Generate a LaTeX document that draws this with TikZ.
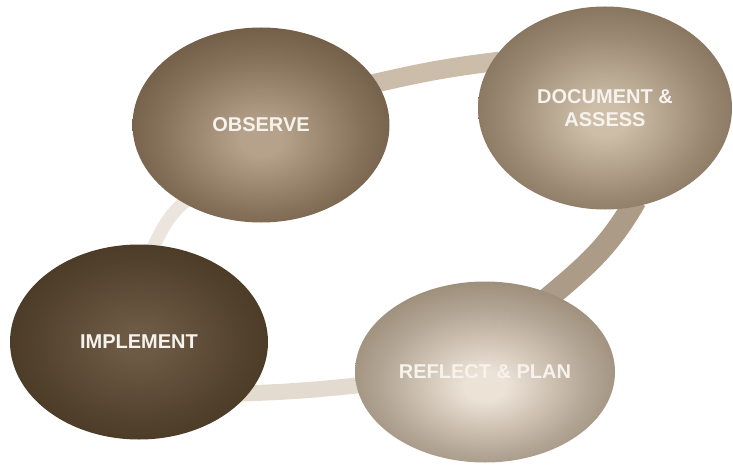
\documentclass[tikz,border=0pt]{standalone}
\usepackage{fontspec}
\setmainfont{Liberation Sans}
\usetikzlibrary{shapes.geometric,backgrounds}

% Colours
\definecolor{obsin}{RGB}{182,162,138}
\definecolor{obsout}{RGB}{84,64,42}
\definecolor{docin}{RGB}{206,190,168}
\definecolor{docout}{RGB}{102,82,60}
\definecolor{impin}{RGB}{108,90,68}
\definecolor{impout}{RGB}{58,42,22}
\definecolor{refin}{RGB}{236,226,214}
\definecolor{refout}{RGB}{122,104,82}
\definecolor{ringtop}{RGB}{204,189,171}
\definecolor{ringright}{RGB}{172,155,134}
\definecolor{ringbottom}{RGB}{228,219,208}
\definecolor{ringleft}{RGB}{236,229,221}
\definecolor{labeltext}{RGB}{246,242,237}

% Ball shadings
\pgfdeclareradialshading{obsball}{\pgfpoint{0bp}{-4bp}}{color(0bp)=(obsin); color(4bp)=(obsin); color(20bp)=(obsin!50!obsout); color(40bp)=(obsout); color(60bp)=(obsout)}
\pgfdeclareradialshading{docball}{\pgfpoint{0bp}{-3bp}}{color(0bp)=(docin); color(4bp)=(docin); color(20bp)=(docin!50!docout); color(40bp)=(docout); color(60bp)=(docout)}
\pgfdeclareradialshading{impball}{\pgfpoint{0bp}{0bp}}{color(0bp)=(impin); color(4bp)=(impin); color(20bp)=(impin!50!impout); color(40bp)=(impout); color(60bp)=(impout)}
\pgfdeclareradialshading{refball}{\pgfpoint{0bp}{-4bp}}{color(0bp)=(refin); color(4bp)=(refin); color(20bp)=(refin!50!refout); color(40bp)=(refout); color(60bp)=(refout)}

\begin{document}
\begin{tikzpicture}[x=1pt,y=-1pt,
    ball/.style={ellipse,inner sep=0pt,text=labeltext,align=center,
        font=\bfseries\fontsize{20}{23}\selectfont},
    ringpart/.style={shorten <=-8pt,shorten >=-8pt}]
    \useasboundingbox (0,0) rectangle (733,465);

    % Stages
    \node[ball,shading=obsball,minimum width=257pt,minimum height=195pt] (obs) at (261,125) {OBSERVE};
    \node[ball,shading=docball,minimum width=254pt,minimum height=203pt] (doc) at (605,108) {DOCUMENT \&\\ASSESS};
    \node[ball,shading=impball,minimum width=258pt,minimum height=195pt] (imp) at (139,342) {IMPLEMENT};
    \node[ball,shading=refball,minimum width=260pt,minimum height=181pt] (ref) at (485,372) {REFLECT \& PLAN};

    % Ring behind the stages
    \begin{scope}[on background layer]
        \draw[ringpart,line width=19pt,draw=ringtop] (obs.20) to[out=13,in=187] (doc.158);
        \draw[ringpart,line width=22pt,draw=ringright] (doc.-75) to[out=-120,in=40] (ref.49);
        \draw[ringpart,line width=16pt,draw=ringbottom] (imp.-25) to[out=2,in=186] (ref.186);
        \draw[ringpart,line width=13pt,draw=ringleft] (imp.81) to[out=65,in=220] (obs.225);
    \end{scope}
\end{tikzpicture}
\end{document}
